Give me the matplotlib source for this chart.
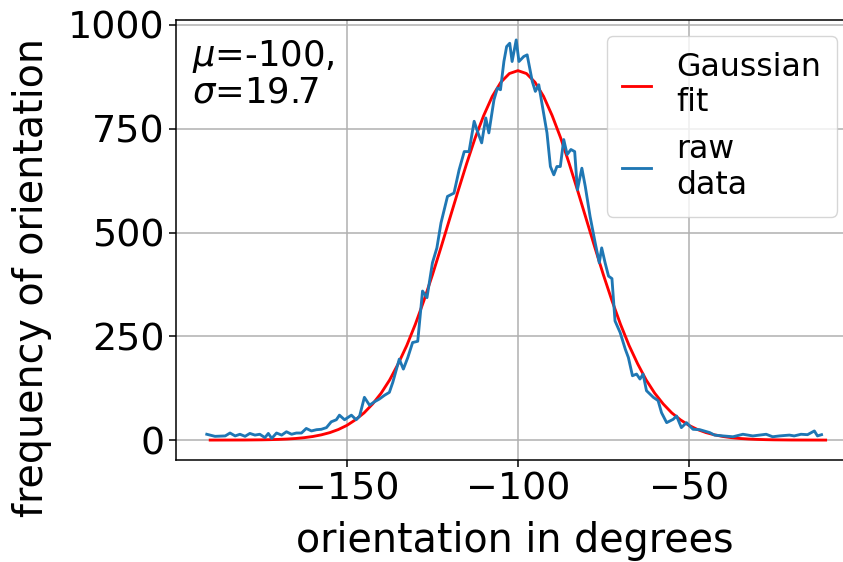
import matplotlib
matplotlib.use("Agg")
import matplotlib.pyplot as plt
import numpy as np

# raw histogram of orientations
raw_deg = [-191.0, -188.6, -185.6, -184.2, -182.7, -181.3, -179.8, -178.4, -176.9, -175.5,
           -174.0, -173.0, -172.0, -170.6, -169.1, -167.7, -166.2, -164.8, -163.3, -161.9,
           -160.4, -158.9, -157.5, -156.0, -154.6, -153.1, -152.2, -150.7, -148.7, -147.3,
           -146.3, -144.9, -143.4, -142.0, -140.5, -139.0, -137.6, -136.6, -134.7, -133.5,
           -132.2, -130.8, -129.3, -127.9, -126.6, -125.0, -123.7, -122.5, -120.6, -118.7,
           -117.2, -115.7, -114.3, -112.8, -111.8, -110.6, -109.4, -108.5, -107.0, -106.0,
           -105.1, -104.1, -103.3, -102.4, -101.7, -100.5, -99.7, -98.3, -97.3, -95.8,
           -94.9, -93.9, -92.5, -91.5, -90.5, -89.5, -88.6, -87.6, -86.6, -85.6,
           -84.5, -83.4, -82.6, -81.3, -80.3, -78.9, -77.4, -76.2, -75.5, -74.5,
           -73.5, -72.5, -71.6, -70.1, -68.6, -67.7, -66.5, -65.3, -64.3, -63.4,
           -62.4, -60.4, -59.0, -58.0, -56.5, -54.6, -53.6, -52.2, -50.7, -48.8,
           -46.8, -43.9, -42.5, -40.0, -37.1, -34.2, -31.3, -27.4, -25.5, -23.5,
           -20.6, -19.2, -17.2, -15.3, -13.3, -12.4, -11.2]
raw_count = [14, 9, 10, 17, 10, 14, 9, 16, 12, 14,
             6, 16, 4, 17, 12, 20, 14, 17, 17, 28,
             22, 25, 26, 30, 44, 49, 60, 49, 60, 49,
             58, 103, 84, 92, 99, 108, 115, 139, 195, 171,
             199, 235, 238, 359, 343, 427, 463, 523, 587, 595,
             651, 695, 695, 768, 743, 716, 776, 740, 820, 848,
             844, 912, 948, 956, 912, 964, 912, 924, 928, 864,
             840, 856, 788, 740, 659, 639, 659, 659, 724, 688,
             700, 695, 603, 655, 611, 539, 475, 427, 463, 427,
             395, 389, 287, 259, 219, 199, 155, 159, 147, 159,
             119, 103, 95, 66, 42, 50, 58, 30, 42, 26,
             25, 18, 12, 10, 8, 14, 10, 14, 8, 10,
             12, 10, 14, 13, 22, 10, 13]

# gaussian fit curve, read at 2.5 degree steps from -190 to -10
fit_deg = np.arange(-190, -9, 2.5)
fit_count = [0, 0.05, 0.1, 0.15, 0.2, 0.4, 0.6, 1.0, 1.6, 2.5,
             3.8, 5.8, 8.6, 12.6, 18, 25.5, 35.5, 49, 65.5, 87,
             113, 145, 184, 228, 279, 336, 398, 464, 532, 600,
             666, 728, 782, 828, 862, 883, 890, 883, 862, 828,
             782, 728, 666, 600, 532, 464, 398, 336, 279, 228,
             184, 145, 113, 87, 65.5, 49, 35.5, 25.5, 18, 12.6,
             8.6, 5.8, 3.8, 2.5, 1.6, 1.0, 0.6, 0.4, 0.2, 0.15,
             0.1, 0.05, 0]

mu_txt = "$\\mu$=-100,\n$\\sigma$=19.7"

fig = plt.figure(figsize=(8.43, 5.62), dpi=100)
# axes run slightly past the right edge, like the cropped original
ax = fig.add_axes([176 / 843, 1 - 460 / 562, (853 - 176) / 843, 440 / 562])

ax.plot(fit_deg, fit_count, color="red", linewidth=2.05, label="Gaussian\nfit")
ax.plot(raw_deg, raw_count, color="#1f77b4", linewidth=2.05, label="raw\ndata")

ax.set_xlim(-200, -2)
ax.set_ylim(-48, 1012)
ax.set_xticks([-150, -100, -50])
ax.set_yticks([0, 250, 500, 750, 1000])
ax.grid(True, color="#b0b0b0", linewidth=1.1)
ax.tick_params(labelsize=27.4, length=4.8, width=1.1)
for sp in ax.spines.values():
    sp.set_linewidth(1.1)

ax.set_xlabel("orientation in degrees", fontsize=28.5, labelpad=10)
ax.set_ylabel("frequency of orientation", fontsize=28.5)
ax.yaxis.set_label_coords(-0.183, 0.414)

ax.text(0.024, 0.958, mu_txt, transform=ax.transAxes, fontsize=25.5,
        va="top", ha="left", linespacing=1.0)

ax.legend(loc="upper right", fontsize=22.7, handlelength=0.92, framealpha=0.8,
          borderpad=0.5)

fig.savefig("out.png", dpi=100)
